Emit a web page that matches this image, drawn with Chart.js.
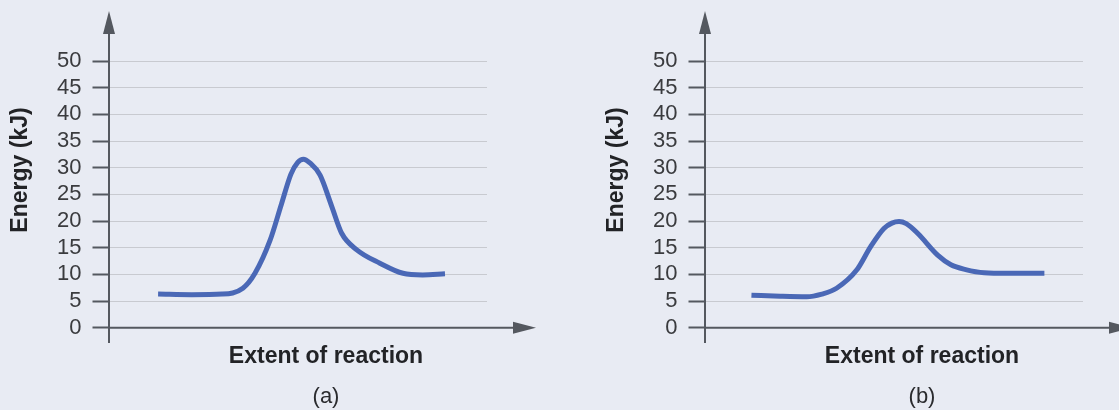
<!DOCTYPE html>
<html>
<head>
<meta charset="utf-8">
<script src="https://cdn.jsdelivr.net/npm/chart.js@4/dist/chart.umd.min.js"></script>
<style>
  html, body { margin: 0; padding: 0; background: #e8ebf3; overflow: hidden; width: 1119px; height: 410px; }
  .panel { position: absolute; top: 0; width: 560px; height: 410px; }
</style>
</head>
<body>
<div class="panel" style="left:0px"><canvas id="chartA" width="560" height="410"></canvas></div>
<div class="panel" style="left:596px"><canvas id="chartB" width="560" height="410"></canvas></div>
<script>
// ---- data ----
const yTickValues = [0, 5, 10, 15, 20, 25, 30, 35, 40, 45, 50];
const yAxisTitle = "Energy (kJ)";
const xAxisTitle = "Extent of reaction";
const panelLabels = ["(a)", "(b)"];

// panel (a): uncatalysed reaction
const extentA = [13.1, 22, 30, 35.5, 38.7, 42.7, 45.7, 48.2, 50, 51.5, 53.2, 55.9, 59, 61.6, 65.6, 71.7, 77.8, 83, 88.9];
const energyA = [6.3, 6.2, 6.3, 7.4, 10.2, 16.4, 23.2, 28.8, 31.0, 31.6, 30.9, 28.6, 22.7, 17.7, 14.6, 12.1, 10.2, 9.9, 10.1];

// panel (b): catalysed reaction
const extentB = [12.4, 20, 27, 31, 34.9, 40.2, 43.9, 47.4, 49.5, 51.4, 53.3, 56.3, 61.6, 65.1, 69, 73.9, 80, 89.8];
const energyB = [6.1, 5.9, 5.8, 6.3, 7.4, 10.8, 15.2, 18.6, 19.6, 19.9, 19.5, 17.7, 13.6, 11.8, 10.9, 10.3, 10.2, 10.2];

const AXIS = '#54585f';
const GRID = '#c8cad0';
const CURVE = '#4a68b6';
const TEXT = '#222326';
const TICKTEXT = '#3a3b3e';

const decorPlugin = {
  id: 'decor',
  afterDraw(chart, args, opts) {
    const ctx = chart.ctx;
    const xs = chart.scales.x, ys = chart.scales.y;
    const x0 = Math.round(xs.getPixelForValue(0));
    const y0 = ys.getPixelForValue(0);
    ctx.save();
    ctx.strokeStyle = AXIS;
    ctx.fillStyle = AXIS;
    ctx.lineWidth = 2;
    // y axis with arrow
    ctx.beginPath();
    ctx.moveTo(x0, 343);
    ctx.lineTo(x0, 32);
    ctx.stroke();
    ctx.beginPath();
    ctx.moveTo(x0, 11);
    ctx.lineTo(x0 - 6, 34);
    ctx.lineTo(x0 + 6, 34);
    ctx.closePath();
    ctx.fill();
    // x axis with arrow
    ctx.beginPath();
    ctx.moveTo(x0, y0);
    ctx.lineTo(515, y0);
    ctx.stroke();
    ctx.beginPath();
    ctx.moveTo(536, y0);
    ctx.lineTo(513, y0 - 6);
    ctx.lineTo(513, y0 + 6);
    ctx.closePath();
    ctx.fill();
    // titles
    ctx.fillStyle = TEXT;
    ctx.textAlign = 'center';
    ctx.textBaseline = 'middle';
    ctx.font = 'bold 23px "Liberation Sans", Arial, sans-serif';
    ctx.fillText(xAxisTitle, 326, 357);
    ctx.save();
    ctx.translate(21, 170);
    ctx.rotate(-Math.PI / 2);
    ctx.fillText(yAxisTitle, 0, 0);
    ctx.restore();
    ctx.font = '22px "Liberation Sans", Arial, sans-serif';
    ctx.fillStyle = '#2a2b2e';
    ctx.fillText(opts.label, 326, 397);
    ctx.restore();
  }
};

function makeChart(id, xs, ys, label) {
  const pts = xs.map((x, i) => ({ x: x, y: ys[i] }));
  return new Chart(document.getElementById(id), {
    type: 'line',
    data: {
      datasets: [{
        data: pts,
        borderColor: CURVE,
        borderWidth: 5,
        pointRadius: 0,
        fill: false,
        cubicInterpolationMode: 'monotone',
        borderCapStyle: 'butt'
      }]
    },
    options: {
      responsive: false,
      animation: false,
      devicePixelRatio: 1,
      layout: { padding: { left: 0, top: 61, right: 73, bottom: 82.3 } },
      plugins: {
        legend: { display: false },
        tooltip: { enabled: false },
        title: { display: false },
        decor: { label: label }
      },
      scales: {
        x: {
          type: 'linear',
          min: 0, max: 100,
          display: false
        },
        y: {
          min: 0, max: 50,
          afterBuildTicks: (s) => { s.ticks = yTickValues.map(v => ({ value: v })); },
          afterFit: (s) => { s.width = 108.5; },
          border: { display: false },
          grid: {
            color: GRID,
            lineWidth: 1,
            drawTicks: true,
            tickLength: 16,
            tickColor: AXIS,
            tickWidth: 2
          },
          ticks: {
            autoSkip: false,
            padding: 11,
            color: TICKTEXT,
            font: { family: '"Liberation Sans", Arial, sans-serif', size: 22 },
            callback: (v) => String(v)
          }
        }
      }
    },
    plugins: [decorPlugin]
  });
}

makeChart('chartA', extentA, energyA, panelLabels[0]);
makeChart('chartB', extentB, energyB, panelLabels[1]);
</script>
</body>
</html>
